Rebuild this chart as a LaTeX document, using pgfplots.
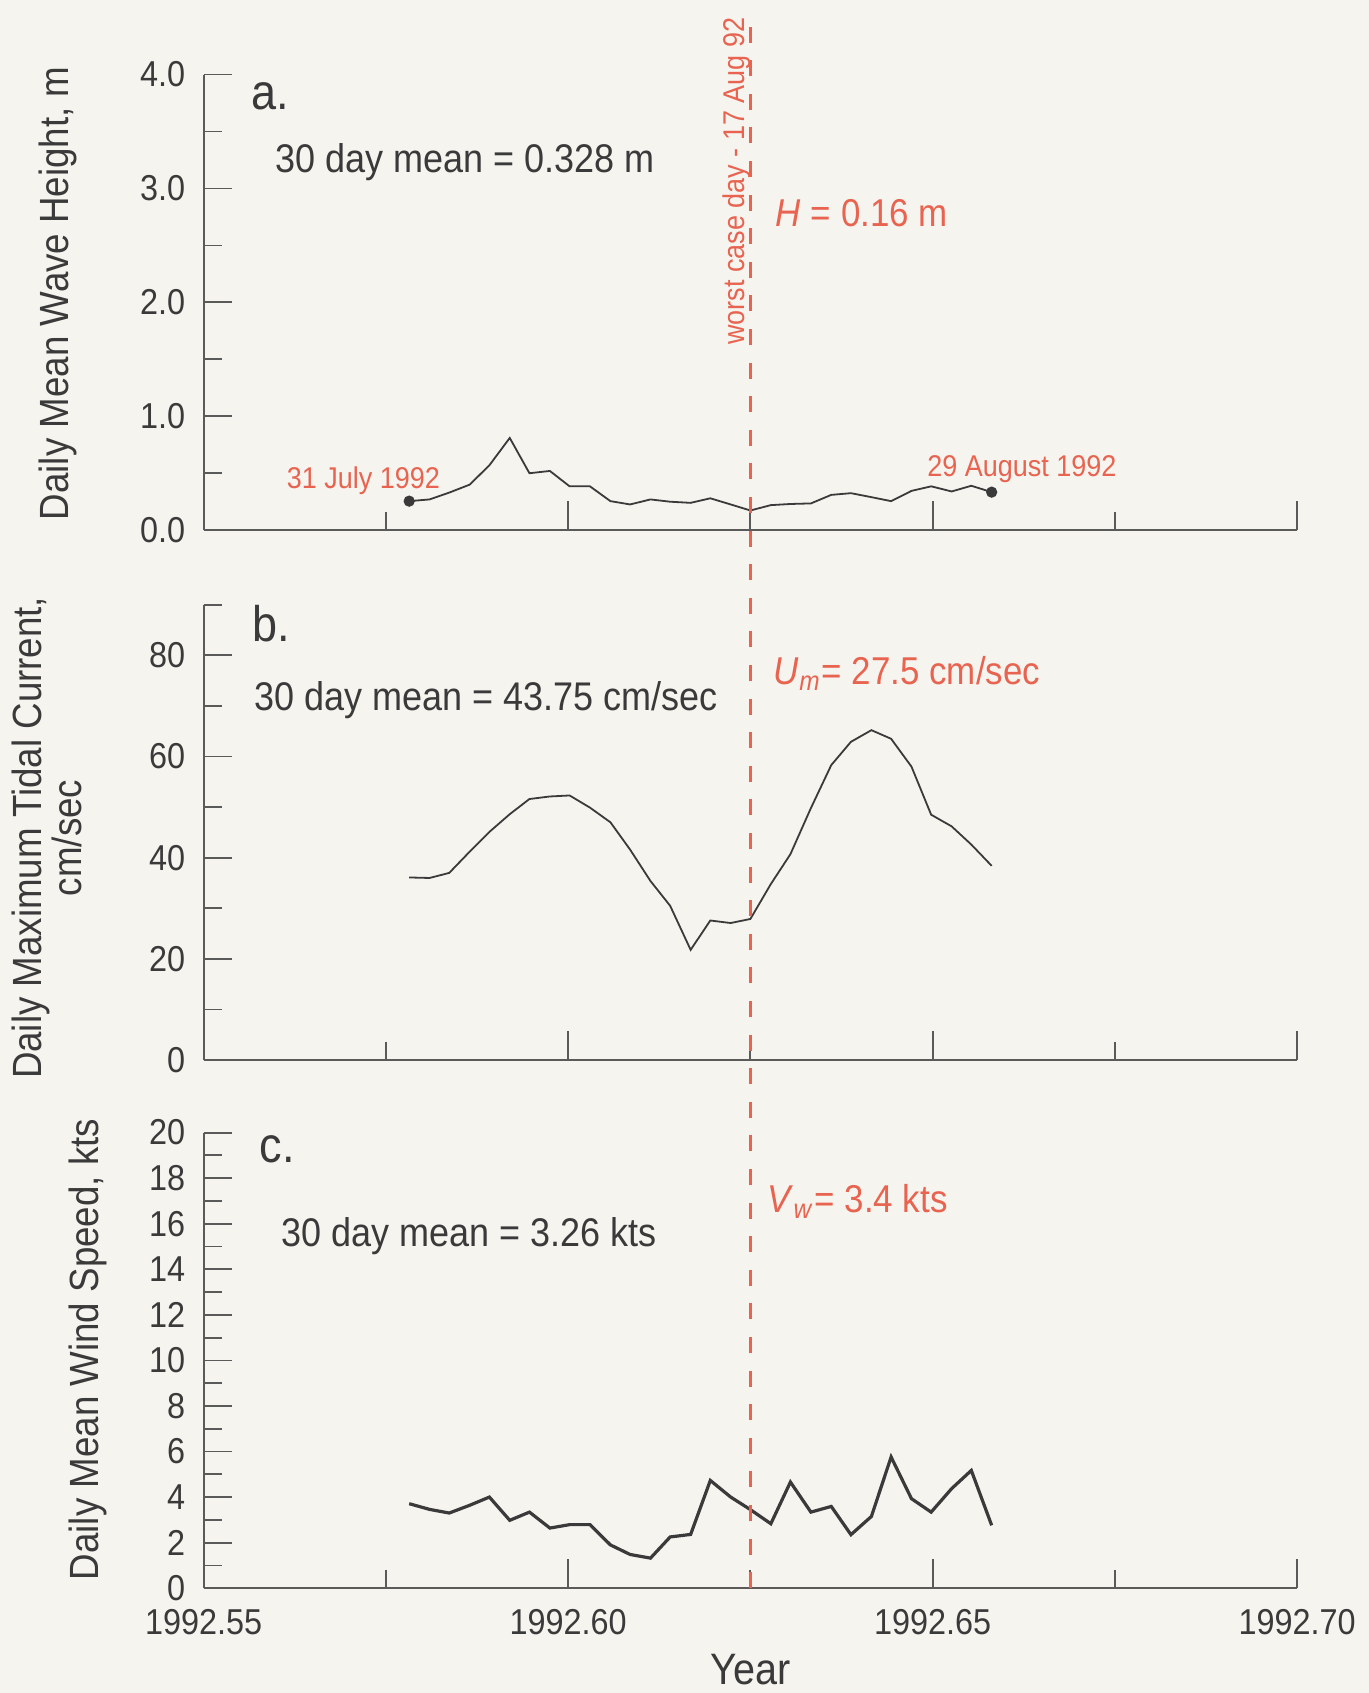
\documentclass[border=0pt]{standalone}
\usepackage{fontspec}
\setmainfont{Liberation Sans}[FakeStretch=0.9]
\usepackage{pgfplots}
\pgfplotsset{compat=1.18}
\usepackage{pgfplotstable}
\definecolor{bg}{HTML}{F6F4EF}
\definecolor{redc}{HTML}{E86450}
\definecolor{txt}{HTML}{3A3A3A}
\definecolor{axc}{HTML}{5A5A5A}

\pgfplotstableread{
x a b c
1992.5782 0.255 36.1 3.71
1992.5810 0.270 36.0 3.46
1992.5837 0.330 37.0 3.30
1992.5865 0.400 41.2 3.64
1992.5892 0.570 45.1 4.00
1992.5920 0.810 48.6 2.98
1992.5947 0.500 51.6 3.34
1992.5975 0.520 52.1 2.64
1992.6002 0.385 52.3 2.79
1992.6030 0.385 49.9 2.79
1992.6058 0.255 47.0 1.90
1992.6085 0.226 41.6 1.48
1992.6113 0.270 35.4 1.32
1992.6140 0.250 30.5 2.25
1992.6168 0.240 21.8 2.36
1992.6195 0.280 27.6 4.73
1992.6223 0.226 27.1 4.00
1992.6250 0.173 27.9 3.45
1992.6278 0.220 34.8 2.83
1992.6305 0.230 40.7 4.66
1992.6333 0.235 49.8 3.34
1992.6361 0.310 58.3 3.59
1992.6388 0.325 62.9 2.35
1992.6416 0.290 65.2 3.15
1992.6443 0.255 63.5 5.76
1992.6471 0.345 58.0 3.93
1992.6498 0.385 48.5 3.34
1992.6526 0.340 46.2 4.37
1992.6553 0.390 42.6 5.17
1992.6581 0.334 38.4 2.76
}\data

\pgfplotsset{panel/.style={
  scale only axis, width=273.4pt, height=113.9pt, anchor=south west,
  xmin=1992.55, xmax=1992.70, clip=false,
  axis x line*=bottom, axis y line*=left,
  axis line style={axc, line width=0.45pt},
  tick style={axc, line width=0.45pt},
  tick align=inside,
  xtick={1992.55,1992.60,1992.65,1992.70},
  minor xtick={1992.575,1992.625,1992.675},
  major tick length=7.3pt, minor tick length=4.6pt,
  /pgf/number format/assume math mode=true,
  ticklabel style={font=\fontsize{9}{10}\selectfont, text=txt},
  yticklabel style={inner sep=0pt, xshift=-4.4pt, anchor=east},
  xticklabel style={inner sep=0pt, yshift=-5.1pt, anchor=north},
}}

\begin{document}
\begin{tikzpicture}
\fill[bg] (0,0) rectangle (342.25pt,423.25pt);
\useasboundingbox (0,0) rectangle (342.25pt,423.25pt);

% ---------- panel a ----------
\begin{axis}[panel, at={(50.9pt,290.7pt)},
  ymin=0, ymax=4, ytick={0,1,2,3,4}, yticklabels={0.0,1.0,2.0,3.0,4.0},
  minor ytick={0.5,1.5,2.5,3.5}, xticklabels={}]
\addplot[txt, line width=0.45pt] table[x=x,y=a]{\data};
\addplot[only marks, mark=*, mark size=1.2pt, txt] coordinates {(1992.5782,0.255) (1992.6581,0.334)};
\node[anchor=base west, inner sep=0, text=txt, font=\fontsize{12.5}{14}\selectfont] at (axis cs:1992.5564,3.69) {a.};
\node[anchor=base west, inner sep=0, text=txt, font=\fontsize{10}{12}\selectfont] at (axis cs:1992.5597,3.137) {30 day mean = 0.328 m};
\node[anchor=base west, inner sep=0, rotate=90, text=redc, font=\fontsize{7.5}{9}\selectfont] at (axis cs:1992.62420,1.621) {worst case day - 17 Aug 92};
\node[anchor=base west, inner sep=0, text=redc, font=\fontsize{9.7}{11}\selectfont] at (axis cs:1992.6284,2.664) {\textit{H} = 0.16 m};
\node[anchor=base west, inner sep=0, text=redc, font=\fontsize{7.5}{9}\selectfont] at (axis cs:1992.56133,0.37) {31 July 1992};
\node[anchor=base west, inner sep=0, text=redc, font=\fontsize{7.5}{9}\selectfont] at (axis cs:1992.64917,0.473) {29 August 1992};
\node[rotate=90, anchor=center, inner sep=0, text=txt, font=\fontsize{10.2}{12}\selectfont] at (axis description cs:-0.1328,0.52) {Daily Mean Wave Height, m};
\end{axis}

% ---------- panel b ----------
\begin{axis}[panel, at={(50.9pt,158.2pt)},
  ymin=0, ymax=90, ytick={0,20,40,60,80}, yticklabels={0,20,40,60,80},
  minor ytick={10,30,50,70,90}, xticklabels={}]
\addplot[txt, line width=0.45pt] table[x=x,y=b]{\data};
\node[anchor=base west, inner sep=0, text=txt, font=\fontsize{12.5}{14}\selectfont] at (axis cs:1992.5566,82.76) {b.};
\node[anchor=base west, inner sep=0, text=txt, font=\fontsize{10}{12}\selectfont] at (axis cs:1992.55689,69.1) {30 day mean = 43.75 cm/sec};
\node[anchor=base west, inner sep=0, text=redc, font=\fontsize{9.7}{11}\selectfont] at (axis cs:1992.62813,74.2) {\textit{U}\textsubscript{\textit{m}}= 27.5 cm/sec};
\node[rotate=90, anchor=center, align=center, inner sep=0, text=txt, font=\fontsize{10.2}{10}\selectfont] at (axis description cs:-0.1437,0.488) {Daily Maximum Tidal Current,\\cm/sec};
\end{axis}

% ---------- panel c ----------
\begin{axis}[panel, at={(50.9pt,26.2pt)},
  ymin=0, ymax=20, ytick={0,2,4,6,8,10,12,14,16,18,20},
  yticklabels={0,2,4,6,8,10,12,14,16,18,20},
  minor ytick={1,3,5,7,9,11,13,15,17,19},
  xticklabels={1992.55,1992.60,1992.65,1992.70}]
\addplot[txt, line width=0.8pt] table[x=x,y=c]{\data};
\addplot[redc, line width=0.6pt, dash pattern=on 4pt off 4.4pt] coordinates {(1992.625,0) (1992.625,69.3)};
\node[anchor=base west, inner sep=0, text=txt, font=\fontsize{12.5}{14}\selectfont] at (axis cs:1992.5576,18.67) {c.};
\node[anchor=base west, inner sep=0, text=txt, font=\fontsize{10}{12}\selectfont] at (axis cs:1992.5606,14.98) {30 day mean = 3.26 kts};
\node[anchor=base west, inner sep=0, text=redc, font=\fontsize{9.7}{11}\selectfont] at (axis cs:1992.62726,16.49) {\textit{V}\textsubscript{\textit{w}}= 3.4 kts};
\node[rotate=90, anchor=center, inner sep=0, text=txt, font=\fontsize{10.2}{12}\selectfont] at (axis description cs:-0.1056,0.524) {Daily Mean Wind Speed, kts};
\node[anchor=base, inner sep=0, text=txt, font=\fontsize{11}{13}\selectfont] at (axis description cs:0.5,-0.2103) {Year};
\end{axis}
\end{tikzpicture}
\end{document}
